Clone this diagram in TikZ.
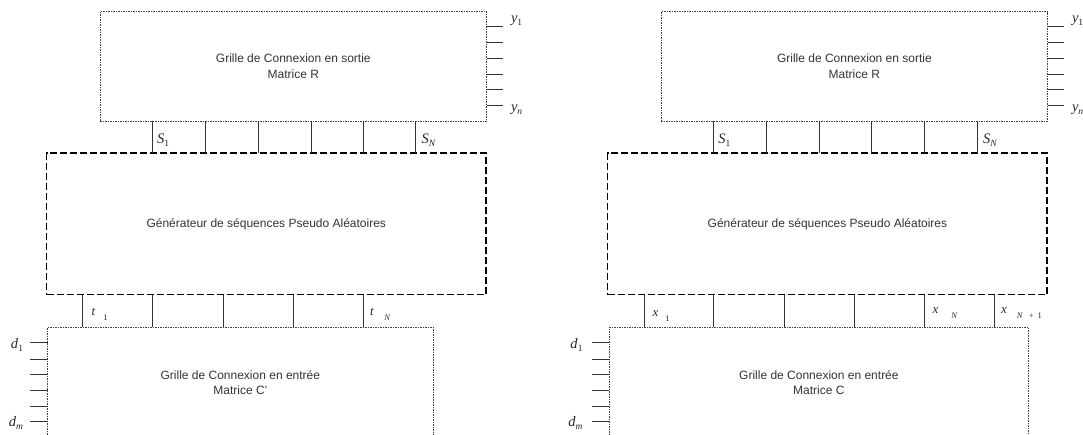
\documentclass[tikz,border=0pt]{standalone}
\usepackage{fontspec}
\setmainfont{Liberation Sans}
\newfontfamily\tms{Liberation Serif}
\newcommand{\biglbl}[2]{{\tms\fontsize{14.5}{14.5}\selectfont\textit{#1}\raisebox{-3.5pt}{\fontsize{9.5}{9.5}\selectfont #2}}}
\newcommand{\smlbl}[3]{{\tms\fontsize{13}{13}\selectfont\textit{#1}\hspace{#3}\raisebox{-5pt}{\fontsize{8.5}{8.5}\selectfont #2}}}
\begin{document}
\begin{tikzpicture}[x=1pt,y=-1pt,
  grid/.style={draw=black!75, line width=0.7pt, dash pattern=on 1.5pt off 1pt,
    inner sep=0pt, outer sep=0pt, align=center,
    font=\fontsize{12}{15.5}\selectfont, text=black!80},
  gen/.style={draw=black, line width=1.7pt, dash pattern=on 7pt off 3pt,
    inner sep=0pt, outer sep=0pt, align=center,
    font=\fontsize{12}{15}\selectfont, text=black!80},
  wire/.style={draw=black!80, line width=0.8pt},
  lab/.style={anchor=base west, inner sep=0pt, outer sep=0pt, text=black!85},
  labr/.style={anchor=base east, inner sep=0pt, outer sep=0pt, text=black!85}]
\useasboundingbox (0,0) rectangle (1083,434);
\clip (0,0) rectangle (1083,434);

% ---------------- left diagram ----------------
\node[grid, minimum width=386.6pt, minimum height=109.3pt] (R1) at (293.3,66.4)
  {Grille de Connexion en sortie\\Matrice R};
\node[gen, minimum width=439.5pt, minimum height=141.2pt] (G1) at (266.25,223.9)
  {G\'en\'erateur de s\'equences Pseudo Al\'eatoires};
\node[grid, minimum width=385.7pt, minimum height=110.4pt] (C1) at (240.35,382.5)
  {Grille de Connexion en entr\'ee\\Matrice C'};

\foreach \yy in {26.7,42.5,58.3,74,89.5,105.7}
  \draw[wire] (R1.east |- 0,\yy) -- ++(16.5,0);
\node[lab] (y1L) at (511,22) {\biglbl{y}{1}};
\node[lab] (ynL) at (511,111) {\biglbl{y}{\textit{n}}};

\foreach \xx in {152.7,205.7,258.3,311,363.3,415.7}
  \draw[wire] (R1.south -| \xx,0) -- (G1.north -| \xx,0);
\node[lab] (s1L) at (157,143) {\biglbl{S}{1}};
\node[lab] (snL) at (421.7,143) {\biglbl{S}{\textit{N}}};

\foreach \xx in {82.7,152.5,223.1,293.4,363.5}
  \draw[wire] (G1.south -| \xx,0) -- (C1.north -| \xx,0);
\node[lab] (t1L) at (91.5,315.5) {\smlbl{t}{1}{8pt}};
\node[lab] (tnL) at (370,315.5) {\smlbl{t}{\textit{N}}{10.5pt}};

\foreach \yy in {342.7,359,374.3,390,406,421.7}
  \draw[wire] (C1.west |- 0,\yy) -- ++(-17.5,0);
\node[labr] (d1L) at (23,348) {\biglbl{d}{1}};
\node[labr] (dmL) at (23,426) {\biglbl{d}{\textit{m}}};

% ---------------- right diagram ----------------
\node[grid, minimum width=386.4pt, minimum height=109.3pt] (R2) at (854.4,66.4)
  {Grille de Connexion en sortie\\Matrice R};
\node[gen, minimum width=439.8pt, minimum height=141.2pt] (G2) at (827.4,223.9)
  {G\'en\'erateur de s\'equences Pseudo Al\'eatoires};
\node[grid, minimum width=419.2pt, minimum height=110.4pt] (C2) at (818.9,382.5)
  {Grille de Connexion en entr\'ee\\Matrice C};

\foreach \yy in {26.7,42.5,58.3,74,89.5,105.7}
  \draw[wire] (R2.east |- 0,\yy) -- ++(16.5,0);
\node[lab] (y1R) at (1072,22) {\biglbl{y}{1}};
\node[lab] (ynR) at (1072,111) {\biglbl{y}{\textit{n}}};

\foreach \xx in {713.8,766.8,819.4,871.7,924.3,977}
  \draw[wire] (R2.south -| \xx,0) -- (G2.north -| \xx,0);
\node[lab] (s1R) at (718.3,143) {\biglbl{S}{1}};
\node[lab] (snR) at (983,143) {\biglbl{S}{\textit{N}}};

\foreach \xx in {643.9,713.8,784.1,854.4,924.3,994.6}
  \draw[wire] (G2.south -| \xx,0) -- (C2.north -| \xx,0);
\node[lab] (x1R) at (652.5,316) {\smlbl{x}{1}{7pt}};
\node[lab] (xnR) at (932.5,313) {\smlbl{x}{\textit{N}}{13pt}};
\node[lab] (xn1R) at (1001,313) {\smlbl{x}{\textit{N}\hspace{6pt}+\hspace{4pt}1}{10pt}};

\foreach \yy in {342.7,359,374.3,390,406,421.7}
  \draw[wire] (C2.west |- 0,\yy) -- ++(-17.5,0);
\node[labr] (d1R) at (582.5,348) {\biglbl{d}{1}};
\node[labr] (dmR) at (582.5,426) {\biglbl{d}{\textit{m}}};
\end{tikzpicture}
\end{document}
